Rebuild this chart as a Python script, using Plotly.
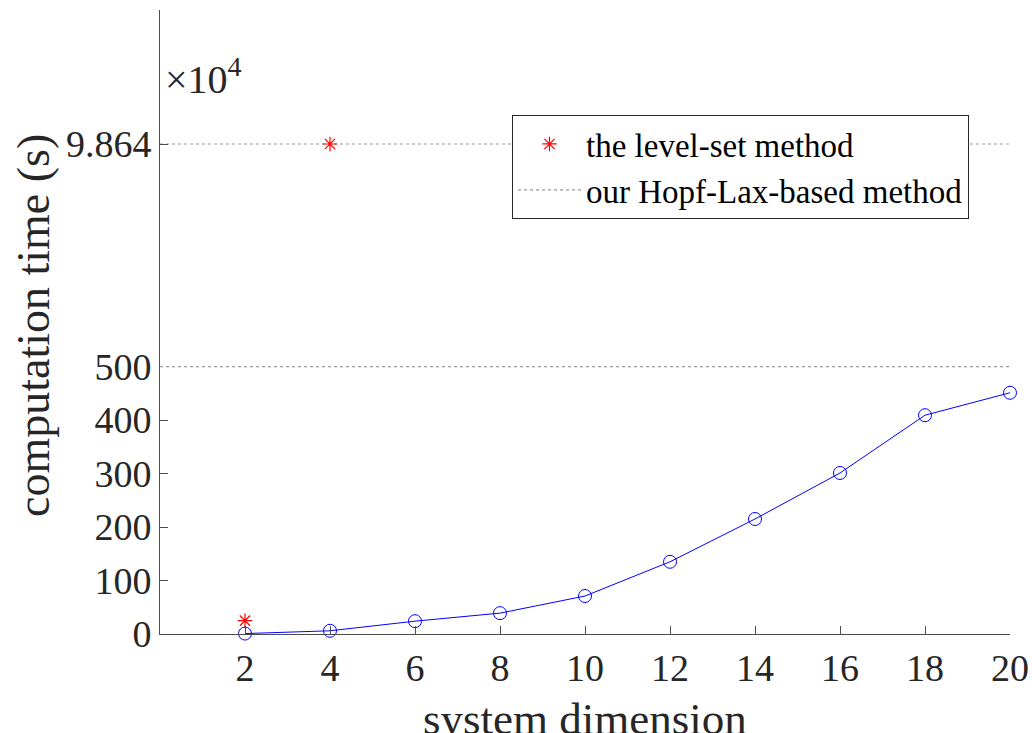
import plotly.graph_objects as go

# system dimension and computation time (seconds)
dims = [2, 4, 6, 8, 10, 12, 14, 16, 18, 20]
hopf_lax_time = [0.8, 6, 24, 39, 71, 135, 215, 301, 409, 451]

level_set_dims = [2, 4]
level_set_time = [25, 98640]

ref_levels = [500, 98640]
x_ticks = [2, 4, 6, 8, 10, 12, 14, 16, 18, 20]
low_ticks = [0, 100, 200, 300, 400, 500]
high_tick_text = "9.864"

FONT = "Liberation Serif"
INK = "#262626"
AXIS = "#4d4d4d"
DOT = "#9a9a9a"

# broken y axis: linear 0..500 below, a separate band for the very large value above
split = 268 / 624
high_pos = (634 - 144) / 624
frac = (high_pos - split) / (1 - split)
high_top = ref_levels[0] + (ref_levels[1] - ref_levels[0]) / frac

fig = go.Figure()

# low band: level-set point that fits in 0..500
fig.add_trace(go.Scatter(
    x=[level_set_dims[0]], y=[level_set_time[0]], mode="markers",
    marker=dict(symbol="asterisk-open", size=12, line=dict(color="red", width=1.2), color="red"),
    name="the level-set method", legendgroup="ls", showlegend=True,
    xaxis="x", yaxis="y", cliponaxis=False))

# reference dotted line at 500
fig.add_trace(go.Scatter(
    x=[0, 20], y=[ref_levels[0]] * 2, mode="lines",
    line=dict(color=DOT, width=1.2, dash="dot"),
    name="our Hopf-Lax-based method", showlegend=True,
    xaxis="x", yaxis="y"))

# Hopf-Lax timing curve
fig.add_trace(go.Scatter(
    x=dims, y=hopf_lax_time, mode="lines+markers",
    line=dict(color="blue", width=1),
    marker=dict(symbol="circle-open", size=13, color="blue", line=dict(width=1)),
    showlegend=False, xaxis="x", yaxis="y", cliponaxis=False))

# upper band: dotted line and the large level-set point
fig.add_trace(go.Scatter(
    x=[0, 20], y=[ref_levels[1]] * 2, mode="lines",
    line=dict(color=DOT, width=1.2, dash="dot"),
    showlegend=False, xaxis="x2", yaxis="y2"))
fig.add_trace(go.Scatter(
    x=[level_set_dims[1]], y=[level_set_time[1]], mode="markers",
    marker=dict(symbol="asterisk-open", size=12, line=dict(color="red", width=1.2), color="red"),
    legendgroup="ls", showlegend=False, xaxis="x2", yaxis="y2", cliponaxis=False))

tickfont = dict(family=FONT, size=38, color=INK)

fig.update_layout(
    width=1032, height=733,
    margin=dict(l=160, r=22, t=10, b=99, autoexpand=False),
    paper_bgcolor="white", plot_bgcolor="white",
    showlegend=True,
    legend=dict(
        x=(512 - 160) / 850, y=(634 - 115) / 624, xanchor="left", yanchor="top",
        bgcolor="white", bordercolor=INK, borderwidth=1,
        font=dict(family=FONT, size=33, color="black"),
        itemwidth=63, tracegroupgap=0,
    ),
    xaxis=dict(
        domain=[0, 1], range=[0, 20], tickvals=x_ticks,
        ticks="inside", ticklen=8, tickcolor=AXIS,
        showline=True, linecolor=AXIS, linewidth=1,
        showgrid=False, zeroline=False, tickfont=tickfont,
        anchor="y", automargin=False,
    ),
    xaxis2=dict(
        domain=[0, 1], range=[0, 20], visible=False, anchor="y2", matches="x",
        automargin=False,
    ),
    yaxis=dict(
        domain=[0, split], range=[0, 501], tickvals=low_ticks,
        ticks="inside", ticklen=8, tickcolor=AXIS,
        showline=True, linecolor=AXIS, linewidth=1,
        showgrid=False, zeroline=False, tickfont=tickfont,
        anchor="x", automargin=False,
    ),
    yaxis2=dict(
        domain=[split, 1], range=[ref_levels[0], high_top],
        tickvals=[ref_levels[1]], ticktext=[high_tick_text],
        ticks="inside", ticklen=8, tickcolor=AXIS,
        showline=True, linecolor=AXIS, linewidth=1,
        showgrid=False, zeroline=False, tickfont=tickfont,
        anchor="x2", automargin=False,
    ),
    annotations=[
        dict(text="computation time (s)", textangle=-90,
             x=(33 - 160) / 850, y=(634 - 326) / 624, xref="paper", yref="paper",
             xanchor="center", yanchor="middle", showarrow=False,
             font=dict(family=FONT, size=46, color=INK)),
        dict(text="system dimension",
             x=0.5, y=(634 - 719) / 624, xref="paper", yref="paper",
             xanchor="center", yanchor="middle", showarrow=False,
             font=dict(family=FONT, size=45, color=INK)),
        dict(text="\u00d710<sup>4</sup>",
             x=3 / 850, y=(634 - 77) / 624, xref="paper", yref="paper",
             xanchor="left", yanchor="middle", showarrow=False,
             font=dict(family=FONT, size=40, color=INK)),
    ],
)

fig.write_html("out.html")
